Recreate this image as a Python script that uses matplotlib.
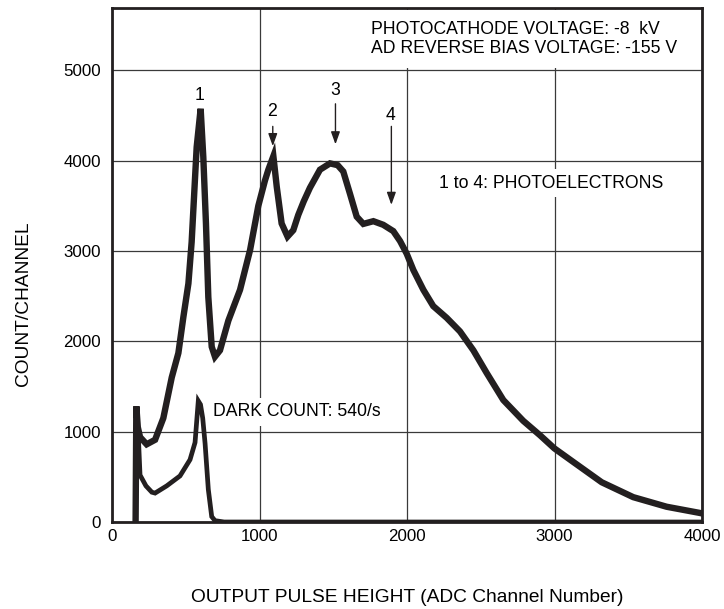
import matplotlib.pyplot as plt
import numpy as np

plt.rcParams['font.family'] = ['Liberation Sans', 'DejaVu Sans']

# 光电子脉冲高度谱
signal_x = [160, 165, 175, 190, 235, 292, 348, 405, 450, 484, 518, 540, 574, 601,
            619, 637, 653, 676, 698, 732, 789, 868, 936, 992, 1037, 1060, 1094,
            1117, 1150, 1190, 1229, 1263, 1300, 1342, 1410, 1478, 1530, 1568,
            1614, 1659, 1704, 1772, 1839, 1907, 1953, 1998, 2043, 2111, 2178,
            2269, 2359, 2450, 2540, 2653, 2788, 2902, 2999, 3127, 3320, 3534,
            3760, 3986, 4000]
signal_y = [0, 1280, 1050, 940, 860, 910, 1150, 1600, 1870, 2270, 2640, 3100, 4150,
            4575, 4040, 3305, 2490, 1940, 1830, 1900, 2230, 2570, 3010, 3500,
            3780, 3900, 4050, 3710, 3305, 3160, 3230, 3400, 3550, 3700, 3900,
            3970, 3950, 3880, 3630, 3380, 3300, 3330, 3290, 3220, 3110, 2970,
            2790, 2570, 2390, 2260, 2110, 1900, 1650, 1350, 1120, 960, 815, 665,
            440, 275, 169, 100, 95]

# 暗计数谱
dark_x = [160, 165, 180, 190, 230, 270, 292, 371, 461, 529, 563, 585, 600, 615,
          631, 653, 676, 698, 760, 4000]
dark_y = [0, 1280, 900, 520, 400, 330, 320, 400, 510, 690, 880, 1340, 1300, 1150,
          870, 360, 60, 15, 0, 0]

xticks = [0, 1000, 2000, 3000, 4000]
yticks = [0, 1000, 2000, 3000, 4000, 5000]

# 峰编号标注: (标签, 文字x, 文字y, 箭头起点y, 箭头终点y)
peaks = [('2', 1085, 4540, 4410, 4130),
         ('3', 1510, 4780, 4660, 4150),
         ('4', 1889, 4500, 4410, 3480)]

fig = plt.figure(figsize=(7.24, 6.09), dpi=100)
ax = fig.add_axes([112 / 724, 87 / 609, 590 / 724, 514 / 609])

ax.plot(dark_x, dark_y, color='#231f20', lw=3.4, solid_joinstyle='miter', zorder=3)
ax.plot(signal_x, signal_y, color='#231f20', lw=4.6, solid_joinstyle='miter', zorder=3)

ax.set_xlim(0, 4000)
ax.set_ylim(0, 5690)
ax.set_xticks(xticks)
ax.set_yticks(yticks)
ax.tick_params(length=0, labelsize=12.2, pad=5)
ax.tick_params(axis='y', pad=8)
ax.grid(True, color='#3a3a3a', lw=0.9)
ax.set_axisbelow(True)
for s in ax.spines.values():
    s.set_linewidth(2.0)
    s.set_color('#231f20')
    s.set_zorder(10)

fig.text(24 / 724, 1 - 304 / 609, 'COUNT/CHANNEL', rotation=90, ha='center',
         va='center', fontsize=13.8)
fig.text(407 / 724, 1 - 597 / 609, 'OUTPUT PULSE HEIGHT (ADC Channel Number)',
         ha='center', va='center', fontsize=13.8)

box = dict(boxstyle='square,pad=0.3', fc='white', ec='none')
ax.text(1756, 5345, 'PHOTOCATHODE VOLTAGE: -8  kV\nAD REVERSE BIAS VOLTAGE: -155 V',
        ha='left', va='center', fontsize=12.7, linespacing=1.2,
        bbox=dict(boxstyle='square,pad=0.6', fc='white', ec='none'), zorder=4)
ax.text(2976, 3750, '1 to 4: PHOTOELECTRONS', ha='center', va='center',
        fontsize=12.7, bbox=box, zorder=4)
ax.text(687, 1220, 'DARK COUNT: 540/s', ha='left', va='center',
        fontsize=12.7, bbox=box, zorder=4)

ax.text(597, 4720, '1', ha='center', va='center', fontsize=12.7, zorder=4)
for lab, tx, ty, y0, y1 in peaks:
    ax.text(tx, ty, lab, ha='center', va='center', fontsize=12.7, zorder=4)
    ax.annotate('', xy=(tx + 5, y1), xytext=(tx + 5, y0),
                arrowprops=dict(arrowstyle='-|>,head_length=0.75,head_width=0.27',
                                color='#231f20', lw=1.0), zorder=4)

fig.savefig('out.png', dpi=100)
